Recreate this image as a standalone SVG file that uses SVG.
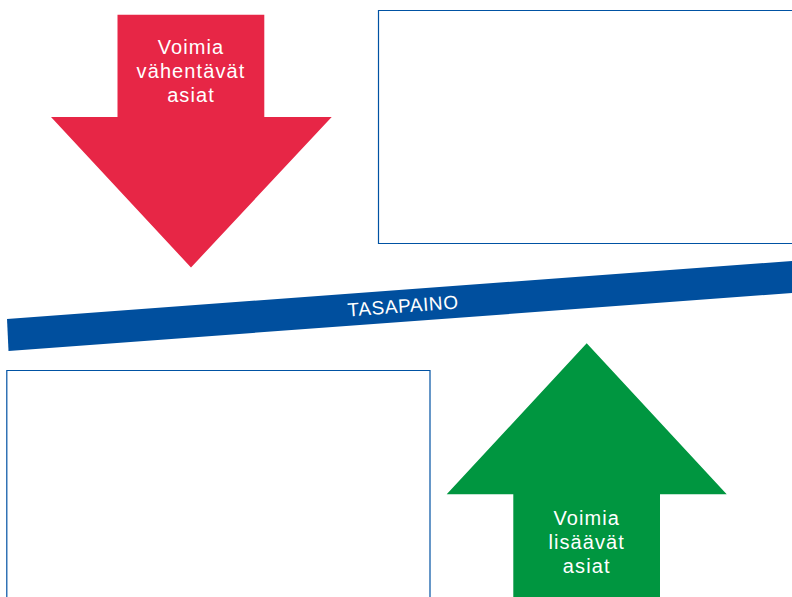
<svg xmlns="http://www.w3.org/2000/svg" width="792" height="597" viewBox="0 0 792 597">
<style>
.box{fill:#ffffff;stroke:#0052a3;stroke-width:1.2}
.lbl{font-family:"Liberation Sans",Arial,sans-serif;font-size:20px;fill:#ffffff;text-anchor:middle;letter-spacing:1.1px}
.bar{font-family:"Liberation Sans",Arial,sans-serif;font-size:19px;fill:#ffffff;text-anchor:middle;letter-spacing:0.6px}
</style>
<rect x="0" y="0" width="792" height="597" fill="#ffffff"/>
<g id="box-top-right">
<path class="box" d="M793,10.5 H378.5 V243.5 H793"/>
</g>
<g id="box-bottom-left">
<path class="box" d="M6.8,598 V370.5 H430 V598"/>
</g>
<g id="arrow-down">
<polygon fill="#e72646" points="117.5,14.7 264.3,14.7 264.3,117 331.7,117 191,267.5 51,117 117.5,117"/>
<text class="lbl" x="191" y="53.5">Voimia</text>
<text class="lbl" x="191" y="77.5">vähentävät</text>
<text class="lbl" x="191" y="101.5">asiat</text>
</g>
<g id="balance-bar">
<polygon fill="#004f9e" points="7,319 792,261 792,293 8.5,351"/>
<text class="bar" x="403" y="312.5" transform="rotate(-4.22 403 306)">TASAPAINO</text>
</g>
<g id="arrow-up">
<polygon fill="#009640" points="586.7,343.3 726.7,494.3 660,494.3 660,598 513.3,598 513.3,494.3 446.7,494.3"/>
<text class="lbl" x="586.7" y="525">Voimia</text>
<text class="lbl" x="586.7" y="548.5">lisäävät</text>
<text class="lbl" x="586.7" y="572.5">asiat</text>
</g>
<g id="connectors"/>
</svg>
